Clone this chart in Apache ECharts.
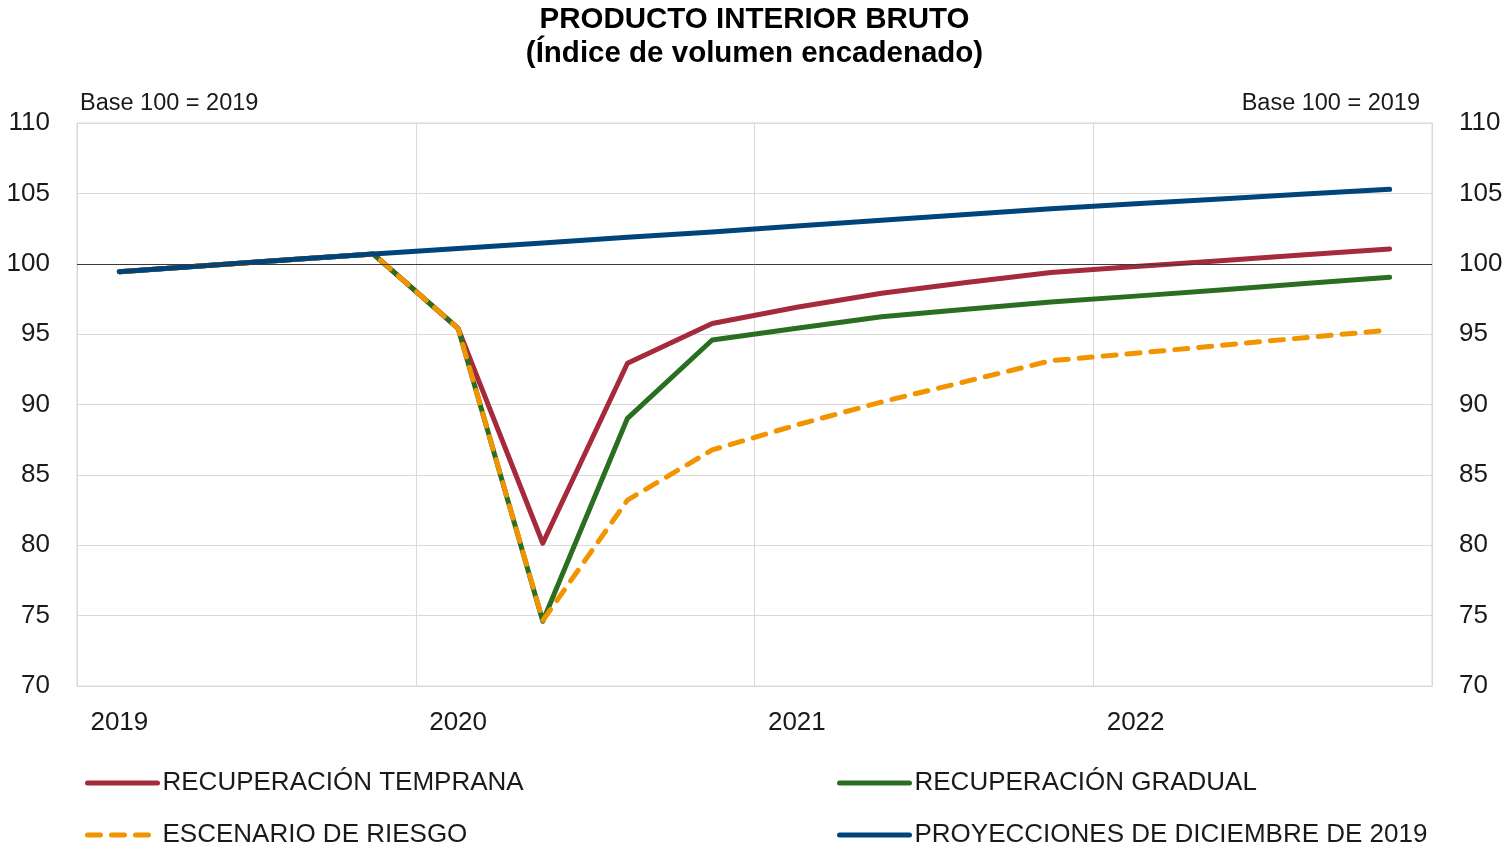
<!DOCTYPE html>
<html>
<head>
<meta charset="utf-8">
<script src="https://cdn.jsdelivr.net/npm/echarts@6/dist/echarts.min.js"></script>
<style>
html,body{margin:0;padding:0;background:#fff;}
#main{width:1509px;height:851px;}
</style>
</head>
<body>
<div id="main"></div>
<script>
const quarters = ['2019 T1','2019 T2','2019 T3','2019 T4','2020 T1','2020 T2','2020 T3','2020 T4',
                  '2021 T1','2021 T2','2021 T3','2021 T4','2022 T1','2022 T2','2022 T3','2022 T4'];
const temprana  = [99.44, 99.86, 100.28, 100.69, 95.41, 80.14, 92.93, 95.76, 96.91, 97.90, 98.67, 99.38, 99.80, 100.22, 100.64, 101.05];
const gradual   = [99.44, 99.86, 100.28, 100.69, 95.41, 74.60, 89.02, 94.58, 95.42, 96.24, 96.77, 97.29, 97.70, 98.14, 98.59, 99.04];
const riesgo    = [99.44, 99.86, 100.28, 100.69, 95.41, 74.65, 83.21, 86.77, 88.55, 90.18, 91.64, 93.11, 93.64, 94.20, 94.75, 95.29];
const proyDic19 = [99.44, 99.86, 100.28, 100.69, 101.08, 101.48, 101.88, 102.26, 102.68, 103.09, 103.50, 103.91, 104.26, 104.60, 104.95, 105.29];
const names = ['RECUPERACIÓN TEMPRANA','RECUPERACIÓN GRADUAL','ESCENARIO DE RIESGO','PROYECCIONES DE DICIEMBRE DE 2019'];

const FONT = '"Liberation Sans", Arial, Helvetica, sans-serif';
const TXT = '#1a1a1a';
const GRID = '#d9d9d9';
const DASH = [13, 11];

const chart = echarts.init(document.getElementById('main'), null, {renderer:'canvas'});

function yAxis(pos){
  return {
    type:'value', position:pos, min:70, max:110, interval:5,
    axisLine:{show:false}, axisTick:{show:false},
    axisLabel:{fontSize:26, color:TXT, fontFamily:FONT, margin:27, padding:[4,0,0,0]},
    splitLine:{show: pos==='left', lineStyle:{color:GRID, width:1}}
  };
}
function lineSeries(name, data, color, dashed){
  return {
    name, type:'line', data, symbol:'none', showSymbol:false, smooth:false,
    lineStyle:{color, width:5, type: dashed ? DASH : 'solid', cap:'round', join:'round'},
    itemStyle:{color},
    animation:false
  };
}

const series = [
  lineSeries(names[0], temprana, '#a52a3b', false),
  lineSeries(names[1], gradual, '#2a6e22', false),
  lineSeries(names[2], riesgo, '#f29400', true),
  lineSeries(names[3], proyDic19, '#00447c', false)
];
series[0].markLine = {
  silent:true, symbol:'none', animation:false, label:{show:false},
  lineStyle:{color:'#3a3a3a', width:1, type:'solid'},
  data:[{yAxis:100}]
};

function legend(name, left, top, dashed){
  return {
    data:[name], left, top, orient:'horizontal', itemWidth:70, itemHeight:14, padding:5,
    textStyle:{fontSize:26, color:TXT, fontFamily:FONT},
    itemStyle:{opacity:0},
    lineStyle:{width:5, type: dashed ? DASH : 'solid', cap:'round'},
    selectedMode:false
  };
}

chart.setOption({
  backgroundColor:'#fff',
  animation:false,
  title:{
    text:'PRODUCTO INTERIOR BRUTO\n(Índice de volumen encadenado)',
    left:'center', top:-2,
    textStyle:{fontSize:29.5, fontWeight:'bold', color:'#000', fontFamily:FONT, lineHeight:34}
  },
  graphic:[
    {type:'text', left:80, top:92, style:{text:'Base 100 = 2019', fontSize:23.5, fill:TXT, fontFamily:FONT}},
    {type:'text', right:89, top:92, style:{text:'Base 100 = 2019', fontSize:23.5, fill:TXT, fontFamily:FONT}}
  ],
  legend:[
    legend(names[0], 80, 765, false),
    legend(names[1], 832, 765, false),
    legend(names[2], 80, 817, true),
    legend(names[3], 832, 817, false)
  ],
  grid:{left:77, right:77, top:123, bottom:165, show:true, borderColor:GRID, borderWidth:1, backgroundColor:'transparent'},
  xAxis:{
    type:'category', data:quarters, boundaryGap:true,
    axisLine:{show:true, lineStyle:{color:GRID}},
    axisTick:{show:false},
    axisLabel:{interval:3, fontSize:26, color:TXT, fontFamily:FONT, margin:24,
      formatter:function(v){return v.slice(0,4);}},
    splitLine:{show:true, interval:3, lineStyle:{color:GRID, width:1}}
  },
  yAxis:[yAxis('left'), yAxis('right')],
  series
});
</script>
</body>
</html>
